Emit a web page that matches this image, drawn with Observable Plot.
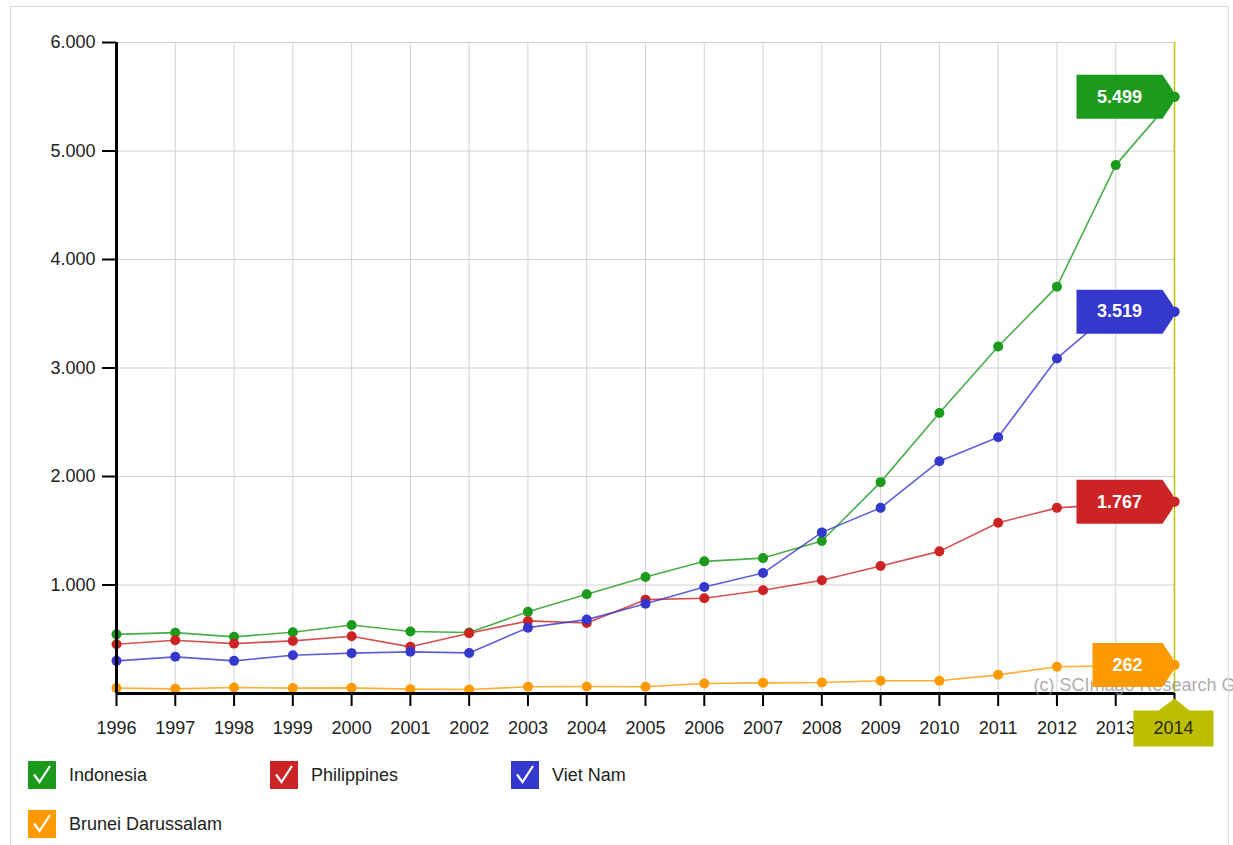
<!DOCTYPE html>
<html>
<head>
<meta charset="utf-8">
<script src="https://cdn.jsdelivr.net/npm/d3@7"></script>
<script src="https://cdn.jsdelivr.net/npm/@observablehq/plot@0.6"></script>
<style>
  html, body { margin: 0; padding: 0; background: #fff; }
  body { width: 1233px; height: 845px; position: relative; overflow: hidden; font-family: "Liberation Sans", Arial, sans-serif; }
  #frame { position: absolute; left: 10px; top: 6px; width: 1217px; height: 860px; border: 1px solid #dcdcdc; pointer-events: none; }
  #chart { position: absolute; left: 0; top: 0; }
  .leg { position: absolute; display: flex; align-items: center; font-size: 18px; color: #222; }
  .leg .box { width: 28px; height: 28px; margin-right: 13px; display: block; }
</style>
</head>
<body>
<div id="chart"></div>
<div id="frame"></div>
<div id="legend"></div>
<script>
const years = [1996,1997,1998,1999,2000,2001,2002,2003,2004,2005,2006,2007,2008,2009,2010,2011,2012,2013,2014];
const indonesia   = [545,561,522,565,632,571,562,754,914,1074,1218,1248,1405,1948,2585,3198,3750,4870,5499];
const philippines = [454,491,460,485,528,430,556,669,650,865,878,951,1043,1175,1310,1573,1711,1745,1767];
const vietnam     = [301,338,301,353,372,384,374,607,681,828,982,1110,1485,1711,2141,2362,3088,3550,3519];
const brunei      = [50,43,55,50,52,40,37,62,64,62,92,98,101,117,117,172,246,255,262];
const seriesNames  = ["Indonesia","Philippines","Viet Nam","Brunei Darussalam"];
const seriesValues = [indonesia, philippines, vietnam, brunei];
const seriesColors = ["#1b9a1b","#cc2424","#3538cc","#ff9900"];
const yTicks = [1000,2000,3000,4000,5000,6000];
const watermark = "(c) SCImago Research Group";

const fmt = d3.formatLocale({decimal: ",", thousands: ".", grouping: [3], currency: ["", ""]}).format(",");
const lastYear = years[years.length - 1];

const series = seriesNames.map((name, i) => ({
  name, color: seriesColors[i],
  rows: years.map((year, j) => ({year, value: seriesValues[i][j], name}))
}));

// tag shape: pointer at the data point, box extends to the left
function tag(w) {
  return {draw(ctx) {
    ctx.moveTo(0, 0);
    ctx.lineTo(-2, -7);
    ctx.lineTo(-12, -22);
    ctx.lineTo(-12 - w, -22);
    ctx.lineTo(-12 - w, 22);
    ctx.lineTo(-12, 22);
    ctx.lineTo(-2, 7);
    ctx.closePath();
  }};
}
// x-axis tag below the last year
const xTag = {draw(ctx) {
  ctx.moveTo(0, 5);
  ctx.lineTo(15, 17);
  ctx.lineTo(39, 17);
  ctx.lineTo(39, 53);
  ctx.lineTo(-41, 53);
  ctx.lineTo(-41, 17);
  ctx.lineTo(-16, 17);
  ctx.closePath();
}};

const marks = [
  Plot.ruleX(years.slice(1), {stroke: "#d2d2d2", strokeWidth: 1}),
  Plot.ruleY(yTicks, {stroke: "#d2d2d2", strokeWidth: 1}),
  Plot.ruleX([lastYear], {stroke: "#c2c200", strokeWidth: 1.5}),
];
for (const s of series) {
  marks.push(Plot.line(s.rows, {x: "year", y: "value", stroke: s.color, strokeWidth: 1.6, strokeOpacity: 0.8}));
  marks.push(Plot.dot(s.rows, {x: "year", y: "value", fill: s.color, r: 5}));
}
marks.push(
  Plot.axisY({ticks: yTicks, tickFormat: fmt, tickSize: 14, tickPadding: 7, fontSize: 18, fill: "#222", stroke: "#000", strokeWidth: 2, label: null}),
  Plot.axisX({ticks: years, tickFormat: d => d === lastYear ? "" : String(d), tickSize: 13, tickPadding: 15, fontSize: 18, fill: "#222", stroke: "#000", strokeWidth: 2, label: null}),
  Plot.ruleX([years[0]], {stroke: "#000", strokeWidth: 3}),
  Plot.ruleY([0], {stroke: "#000", strokeWidth: 3}),
  Plot.text([watermark], {frameAnchor: "bottom-right", text: d => d, textAnchor: "start", dx: -141, dy: -3, fill: "#909090", fillOpacity: 0.75, fontSize: 18})
);
for (const s of series) {
  const last = s.rows[s.rows.length - 1];
  const label = fmt(last.value);
  const w = label.length >= 5 ? 86 : 70;
  marks.push(Plot.dot([last], {x: "year", y: "value", symbol: tag(w), r: 5, fill: s.color, stroke: "none"}));
  marks.push(Plot.dot([last], {x: "year", y: "value", fill: s.color, r: 5}));
  marks.push(Plot.text([last], {x: "year", y: "value", text: () => label, dx: -12 - w / 2, fill: "#fff", fontWeight: "bold", fontSize: 18}));
}
marks.push(
  Plot.dot([{year: lastYear, value: 0}], {x: "year", y: "value", symbol: xTag, r: 5, fill: "#bebe00", stroke: "none"}),
  Plot.text([{year: lastYear, value: 0}], {x: "year", y: "value", text: d => String(d.year), dx: -1, dy: 35, fill: "#2a2a00", fontSize: 18})
);

const chart = Plot.plot({
  width: 1233,
  height: 750,
  marginLeft: 116,
  marginRight: 59,
  marginTop: 42,
  marginBottom: 57,
  style: {fontFamily: "'Liberation Sans', Arial, sans-serif", fontSize: "18px", background: "transparent", overflow: "hidden"},
  x: {domain: [years[0], lastYear], label: null},
  y: {domain: [0, 6000], label: null},
  marks
});
document.getElementById("chart").appendChild(chart);

// legend
const legendPos = [[28, 761], [270, 761], [511, 761], [28, 810]];
const legend = document.getElementById("legend");
seriesNames.forEach((name, i) => {
  const item = document.createElement("div");
  item.className = "leg";
  item.style.left = legendPos[i][0] + "px";
  item.style.top = legendPos[i][1] + "px";
  item.innerHTML = `<svg class="box" viewBox="0 0 28 28"><rect width="28" height="28" fill="${seriesColors[i]}"/><path d="M6 13.5 L11.5 21 L22 5" fill="none" stroke="#fff" stroke-width="2.2"/></svg><span>${name}</span>`;
  legend.appendChild(item);
});
</script>
</body>
</html>
